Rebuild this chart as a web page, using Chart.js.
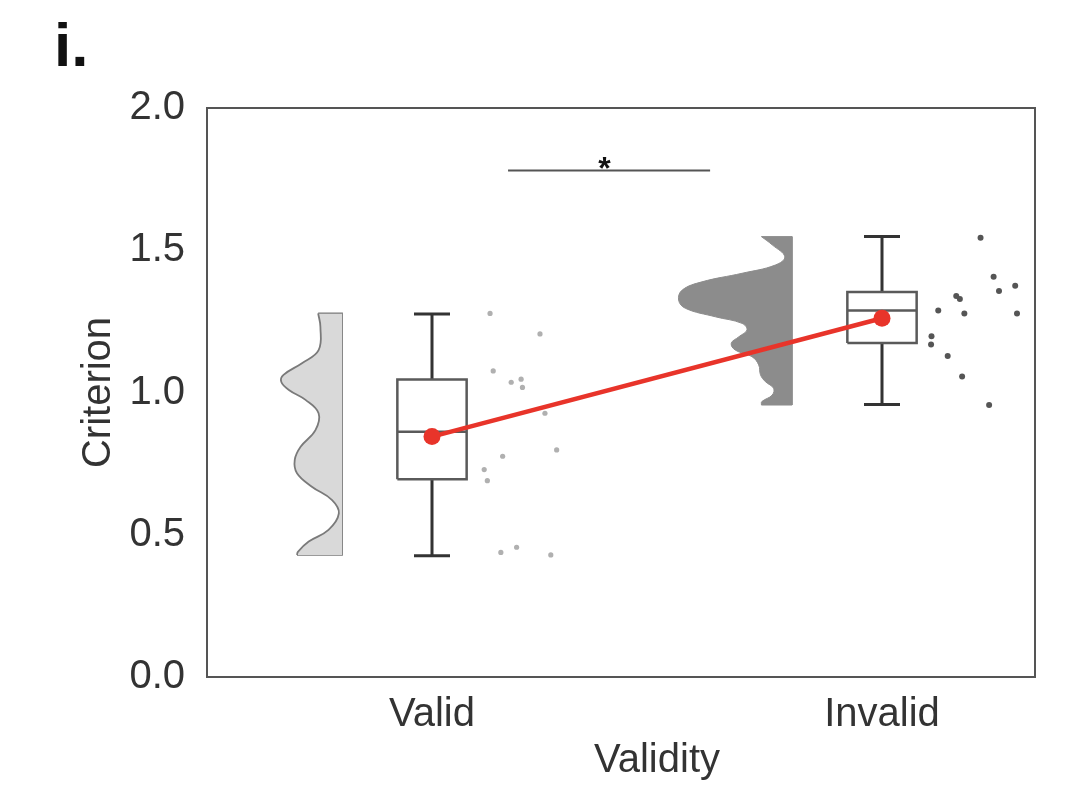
<!DOCTYPE html>
<html><head><meta charset="utf-8">
<script src="https://cdn.jsdelivr.net/npm/chart.js@4/dist/chart.umd.min.js"></script>
<style>html,body{margin:0;padding:0;background:#fff}#wrap{width:1067px;height:795px;position:relative}</style>
</head><body><div id="wrap"><canvas id="c"></canvas></div>
<script>
// ---- data ----
const categories = ['Valid', 'Invalid'];
const yTicks = [0.0, 0.5, 1.0, 1.5, 2.0];
const panelLabel = 'i.';
const xTitle = 'Validity';
const yTitle = 'Criterion';

const whiskerLow  = [0.426, 0.958];
const q1          = [0.695, 1.174];
const median      = [0.862, 1.288];
const q3          = [1.046, 1.353];
const whiskerHigh = [1.276, 1.548];
const means       = [0.845, 1.261];

// half-violin density: y levels and widths
const validDensityY = [1.278,1.231,1.149,1.103,1.062,1.038,1.009,0.974,0.927,0.868,0.809,0.763,0.716,0.669,0.622,0.575,0.517,0.476,0.440,0.429];
const validDensityW = [0.053,0.048,0.052,0.089,0.130,0.135,0.118,0.081,0.052,0.059,0.092,0.105,0.100,0.067,0.022,0.007,0.030,0.074,0.098,0.100];
const invalidDensityY = [1.548,1.519,1.477,1.448,1.419,1.389,1.360,1.325,1.296,1.266,1.243,1.220,1.196,1.173,1.149,1.126,1.097,1.062,1.038,1.015,0.991,0.968,0.956];
const invalidDensityW = [0.068,0.044,0.016,0.037,0.111,0.200,0.244,0.252,0.237,0.170,0.111,0.100,0.118,0.135,0.126,0.089,0.074,0.070,0.059,0.041,0.044,0.067,0.068];

// raw observations (value, jitter offset)
const validObsY = [1.278,1.206,1.076,1.036,1.047,1.018,0.927,0.798,0.776,0.729,0.690,0.438,0.456,0.429];
const validObsJ = [0.129,0.240,0.136,0.176,0.198,0.201,0.251,0.277,0.157,0.116,0.123,0.153,0.188,0.264];
const invalidObsY = [1.544,1.407,1.375,1.357,1.339,1.329,1.288,1.278,1.278,1.198,1.169,1.128,1.056,0.956];
const invalidObsJ = [0.219,0.248,0.296,0.260,0.165,0.173,0.125,0.183,0.300,0.110,0.109,0.146,0.178,0.238];

const sigSpan = [0.169, 0.618];
const sigLevel = 1.780;
const sigLabel = '*';

// ---- styling / geometry ----
const BOX_HW = 0.077, CAP_HW = 0.04, VIOLIN_EDGE = -0.2;
const FONT = '"Liberation Sans", Arial, Helvetica, sans-serif';
const TXT = '#333333';

function contour(ci, ys, ws) {
  const edge = ci + VIOLIN_EDGE;
  return ys.map((y, i) => ({x: edge - ws[i], y}));
}
function violinEdge(ci, ys, ws) {
  const edge = ci + VIOLIN_EDGE, n = ys.length - 1;
  return [{x: edge - ws[0], y: ys[0]}, {x: edge, y: ys[0]}, {x: edge, y: ys[n]}, {x: edge - ws[n], y: ys[n]}];
}
function boxOutline(ci) {
  const l = ci - BOX_HW, r = ci + BOX_HW;
  return [{x:l,y:q1[ci]},{x:r,y:q1[ci]},{x:r,y:q3[ci]},{x:l,y:q3[ci]},{x:l,y:q1[ci]},
          {x:l,y:null},
          {x:l,y:median[ci]},{x:r,y:median[ci]}];
}
function whiskers(ci) {
  return [{x:ci,y:q3[ci]},{x:ci,y:whiskerHigh[ci]},{x:ci,y:null},
          {x:ci-CAP_HW,y:whiskerHigh[ci]},{x:ci+CAP_HW,y:whiskerHigh[ci]},{x:ci,y:null},
          {x:ci,y:q1[ci]},{x:ci,y:whiskerLow[ci]},{x:ci,y:null},
          {x:ci-CAP_HW,y:whiskerLow[ci]},{x:ci+CAP_HW,y:whiskerLow[ci]}];
}
function obs(ci, ys, js) { return ys.map((y, i) => ({x: ci + js[i], y})); }

const datasets = [
  {data: means.map((m, i) => ({x: i, y: m})), borderColor: '#e8342a', backgroundColor: '#e8342a',
   borderWidth: 4.5, pointRadius: 8.5, pointBorderWidth: 0, order: 0, tension: 0},
  {data: obs(0, validObsY, validObsJ), showLine: false, pointRadius: 2.6, pointBorderWidth: 0,
   backgroundColor: '#b0b0b0', order: 1},
  {data: obs(1, invalidObsY, invalidObsJ), showLine: false, pointRadius: 3, pointBorderWidth: 0,
   backgroundColor: '#555555', order: 1},
  {data: boxOutline(0), borderColor: '#5a5a5a', borderWidth: 2.5, pointRadius: 0, spanGaps: false, order: 2, tension: 0},
  {data: boxOutline(1), borderColor: '#5a5a5a', borderWidth: 2.5, pointRadius: 0, spanGaps: false, order: 2, tension: 0},
  {data: whiskers(0), borderColor: '#333333', borderWidth: 3, pointRadius: 0, spanGaps: false, order: 2, tension: 0},
  {data: whiskers(1), borderColor: '#333333', borderWidth: 3, pointRadius: 0, spanGaps: false, order: 2, tension: 0},
  {data: contour(0, validDensityY, validDensityW), indexAxis: 'y', borderColor: '#7a7a7a', backgroundColor: '#d9d9d9',
   borderWidth: 1.8, pointRadius: 0, fill: {value: VIOLIN_EDGE}, tension: 0.4, order: 3},
  {data: violinEdge(0, validDensityY, validDensityW), borderColor: '#7a7a7a', borderWidth: 1.8, pointRadius: 0, tension: 0, order: 3},
  {data: contour(1, invalidDensityY, invalidDensityW), indexAxis: 'y', borderColor: '#8c8c8c', backgroundColor: '#8c8c8c',
   borderWidth: 1, pointRadius: 0, fill: {value: 1 + VIOLIN_EDGE}, tension: 0.4, order: 3},
  {data: violinEdge(1, invalidDensityY, invalidDensityW), borderColor: '#8c8c8c', borderWidth: 1, pointRadius: 0, tension: 0, order: 3},
  {data: sigSpan.map(x => ({x, y: sigLevel})), borderColor: '#555555', borderWidth: 2, pointRadius: 0, order: 2, tension: 0}
];

const decor = {
  id: 'decor',
  afterDraw(chart) {
    const {ctx, chartArea: a, scales: {x, y}} = chart;
    ctx.save();
    ctx.strokeStyle = '#555555'; ctx.lineWidth = 2;
    ctx.strokeRect(a.left, a.top, a.right - a.left, a.bottom - a.top);
    ctx.fillStyle = '#111111';
    ctx.font = 'bold 62px ' + FONT;
    ctx.textAlign = 'left'; ctx.textBaseline = 'alphabetic';
    ctx.fillText(panelLabel, 54, 66);
    ctx.fillStyle = TXT;
    ctx.font = '40px ' + FONT;
    ctx.textAlign = 'center';
    ctx.fillText(xTitle, x.getPixelForValue(0.5), 772);
    ctx.fillStyle = '#111111';
    ctx.font = 'bold 32px ' + FONT;
    ctx.fillText(sigLabel, x.getPixelForValue((sigSpan[0] + sigSpan[1]) / 2 - 0.01), y.getPixelForValue(sigLevel) + 8);
    ctx.restore();
  }
};

new Chart(document.getElementById('c'), {
  type: 'line',
  data: {datasets},
  options: {
    responsive: true, maintainAspectRatio: false, animation: false,
    layout: {padding: {top: 108, right: 32, left: 0, bottom: 0}},
    plugins: {legend: {display: false}, tooltip: {enabled: false}, title: {display: false}},
    scales: {
      x: {type: 'linear', min: -0.5, max: 1.34,
        grid: {display: false, drawTicks: false}, border: {display: false},
        afterBuildTicks: s => { s.ticks = categories.map((c, i) => ({value: i})); },
        afterFit: s => { s.height = 118; },
        ticks: {callback: v => categories[v] ?? '', font: {size: 40, family: FONT}, color: TXT, padding: 14, maxRotation: 0, autoSkip: false}
      },
      y: {type: 'linear', min: 0, max: 2,
        grid: {display: false, drawTicks: false}, border: {display: false},
        afterBuildTicks: s => { s.ticks = yTicks.map(v => ({value: v})); },
        afterFit: s => { s.width = 207; },
        ticks: {callback: v => Number(v).toFixed(1), font: {size: 40, family: FONT}, color: TXT, padding: 22},
        title: {display: true, text: yTitle, font: {size: 40, family: FONT}, color: TXT, padding: {top: 75, bottom: 0}}
      }
    }
  },
  plugins: [decor]
});
</script>
</body></html>
